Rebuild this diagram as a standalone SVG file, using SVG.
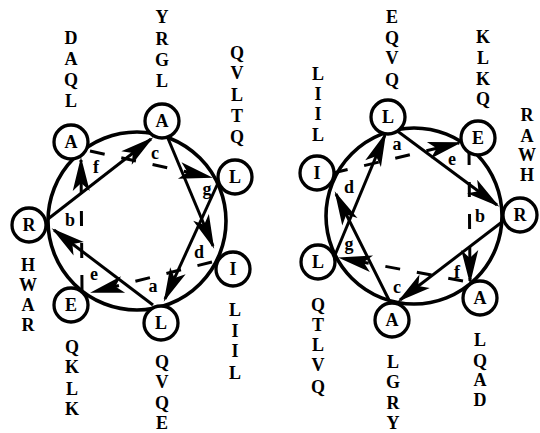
<svg xmlns="http://www.w3.org/2000/svg" width="540" height="433" viewBox="0 0 540 433">
<style>
text{font-family:"Liberation Serif","Times New Roman",serif;font-weight:bold;font-size:18px;fill:#000;text-anchor:middle}
.big{fill:none;stroke:#000;stroke-width:3.6}
.res{fill:#fff;stroke:#000;stroke-width:3.3}
.s{stroke:#000;stroke-width:3;fill:none;marker-end:url(#ah)}
.d{stroke:#000;stroke-width:3;fill:none;stroke-dasharray:15 17;marker-end:url(#ah)}
.pos{font-size:18px}
</style>
<defs>
<marker id="ah" viewBox="-34 -10 38 20" markerWidth="38" markerHeight="20" markerUnits="userSpaceOnUse" refX="0" refY="0" orient="auto">
<path d="M3,0 L-31,-8.5 L-23,0 L-31,8.5 Z" fill="#000"/>
</marker>
</defs>
<rect width="540" height="433" fill="#fff"/>
<g id="wheel-left-ring"><circle class="big" cx="137" cy="221" r="89"/></g>
<g id="wheel-right-ring"><circle class="big" cx="414" cy="216" r="88"/></g>
<g id="connectors">
<line class="s" x1="48" y1="219" x2="151" y2="139"/>
<line class="s" x1="167" y1="136" x2="213" y2="246"/>
<line class="s" x1="218" y1="183" x2="165" y2="299"/>
<line class="s" x1="153" y1="305" x2="54" y2="230"/>
<line class="d" x1="82" y1="290" x2="81" y2="160"/>
<line class="d" x1="90" y1="151" x2="210" y2="177"/>
<line class="d" x1="212" y1="262" x2="93" y2="292"/>
<line class="s" x1="335" y1="255" x2="385" y2="135"/>
<line class="s" x1="396" y1="130" x2="497" y2="205"/>
<line class="s" x1="502" y1="222" x2="400" y2="300"/>
<line class="s" x1="389" y1="300" x2="336" y2="194"/>
<line class="d" x1="333" y1="173" x2="459" y2="143"/>
<line class="d" x1="469" y1="150" x2="470" y2="281"/>
<line class="d" x1="463" y1="281" x2="341" y2="258"/>
</g>
<g id="left-positions" class="pos">
<text x="70" y="226">b</text>
<text x="96" y="173">f</text>
<text x="155" y="159">c</text>
<text x="207" y="195">g</text>
<text x="199" y="258">d</text>
<text x="153" y="292">a</text>
<text x="94" y="280">e</text>
</g>
<g id="right-positions" class="pos">
<text x="397" y="150">a</text>
<text x="452" y="165">e</text>
<text x="480" y="222">b</text>
<text x="457" y="278">f</text>
<text x="397" y="293">c</text>
<text x="349" y="250">g</text>
<text x="349" y="193">d</text>
</g>
<g id="L-R"><circle class="res" cx="29" cy="225" r="17"/><text x="29" y="231">R</text></g>
<g id="L-A1"><circle class="res" cx="71" cy="142" r="17"/><text x="71" y="148">A</text></g>
<g id="L-A2"><circle class="res" cx="162" cy="121" r="17"/><text x="162" y="127">A</text></g>
<g id="L-L1"><circle class="res" cx="235" cy="177" r="17"/><text x="235" y="183">L</text></g>
<g id="L-I"><circle class="res" cx="233" cy="269" r="17"/><text x="233" y="275">I</text></g>
<g id="L-L2"><circle class="res" cx="161" cy="323" r="17"/><text x="161" y="329">L</text></g>
<g id="L-E"><circle class="res" cx="71" cy="305" r="17"/><text x="71" y="311">E</text></g>
<g id="R-L1"><circle class="res" cx="388" cy="117" r="17"/><text x="388" y="123">L</text></g>
<g id="R-E"><circle class="res" cx="478" cy="138" r="17"/><text x="478" y="144">E</text></g>
<g id="R-R"><circle class="res" cx="520" cy="215" r="17"/><text x="520" y="221">R</text></g>
<g id="R-A1"><circle class="res" cx="480" cy="298" r="17"/><text x="480" y="304">A</text></g>
<g id="R-A2"><circle class="res" cx="392" cy="320" r="17"/><text x="392" y="326">A</text></g>
<g id="R-L2"><circle class="res" cx="318" cy="262" r="17"/><text x="318" y="268">L</text></g>
<g id="R-I"><circle class="res" cx="317" cy="173" r="17"/><text x="317" y="179">I</text></g>
<g id="left-columns">
<text x="71" y="44">D</text><text x="71" y="65">A</text><text x="71" y="86">Q</text><text x="71" y="107">L</text>
<text x="162" y="23">Y</text><text x="162" y="45">R</text><text x="162" y="66">G</text><text x="162" y="87">L</text>
<text x="237" y="59">Q</text><text x="237" y="79">V</text><text x="237" y="101">L</text><text x="237" y="122">T</text><text x="237" y="143">Q</text>
<text x="28" y="271">H</text><text x="28" y="291">W</text><text x="28" y="311">A</text><text x="28" y="331">R</text>
<text x="72" y="353">Q</text><text x="72" y="373">K</text><text x="72" y="395">L</text><text x="72" y="415">K</text>
<text x="162" y="368">Q</text><text x="162" y="388">V</text><text x="162" y="409">Q</text><text x="162" y="429">E</text>
<text x="235" y="316">L</text><text x="235" y="337">I</text><text x="235" y="357">I</text><text x="235" y="379">L</text>
</g>
<g id="right-columns">
<text x="318" y="80">L</text><text x="318" y="100">I</text><text x="318" y="120">I</text><text x="318" y="141">L</text>
<text x="392" y="23">E</text><text x="392" y="44">Q</text><text x="392" y="64">V</text><text x="392" y="86">Q</text>
<text x="483" y="43">K</text><text x="483" y="64">L</text><text x="483" y="85">K</text><text x="483" y="105">Q</text>
<text x="527" y="121">R</text><text x="527" y="142">A</text><text x="527" y="161">W</text><text x="527" y="181">H</text>
<text x="318" y="311">Q</text><text x="318" y="331">T</text><text x="318" y="351">L</text><text x="318" y="371">V</text><text x="318" y="393">Q</text>
<text x="393" y="368">L</text><text x="393" y="388">G</text><text x="393" y="409">R</text><text x="393" y="429">Y</text>
<text x="480" y="346">L</text><text x="480" y="367">Q</text><text x="480" y="386">A</text><text x="480" y="406">D</text>
</g>
</svg>
